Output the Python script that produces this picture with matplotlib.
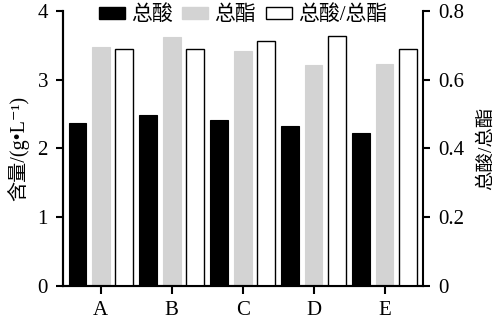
import matplotlib
matplotlib.use("Agg")
import matplotlib.pyplot as plt
import numpy as np
from matplotlib.patches import Patch

plt.rcParams['font.family'] = ['Liberation Serif', 'Noto Sans CJK SC', 'DejaVu Serif']

# 数据
samples = ['A', 'B', 'C', 'D', 'E']
total_acid = [2.37, 2.49, 2.42, 2.33, 2.22]       # 总酸 g/L
total_ester = [3.48, 3.62, 3.41, 3.21, 3.23]      # 总酯 g/L
acid_ester_ratio = [0.689, 0.689, 0.712, 0.728, 0.689]  # 总酸/总酯

x = np.arange(len(samples))
w = 0.25
off = 0.33

fig = plt.figure(figsize=(4.98, 3.21), dpi=100)
ax1 = fig.add_axes([0.127, 0.109, 0.722, 0.857])
ax2 = ax1.twinx()

ax1.bar(x - off, total_acid, w, color='black', edgecolor='black', linewidth=0.8)
ax1.bar(x, total_ester, w, color='#d3d3d3', edgecolor='#d3d3d3', linewidth=0.8)
ax2.bar(x + off, acid_ester_ratio, w, color='white', edgecolor='black', linewidth=1.0)

ax1.set_xlim(-0.53, 4.54)
ax1.set_ylim(0, 4)
ax2.set_ylim(0, 0.8)
ax1.set_yticks([0, 1, 2, 3, 4])
ax1.set_yticklabels(['0', '1', '2', '3', '4'])
ax2.set_yticks([0, 0.2, 0.4, 0.6, 0.8])
ax2.set_yticklabels(['0', '0.2', '0.4', '0.6', '0.8'])
ax1.set_xticks(x)
ax1.set_xticklabels(samples)

for ax in (ax1, ax2):
    ax.spines['top'].set_visible(False)
    for s in ('left', 'right', 'bottom'):
        ax.spines[s].set_linewidth(1.5)
    ax.tick_params(axis='y', direction='out', length=5, width=1.5, labelsize=15, pad=6)
ax1.tick_params(axis='x', direction='out', length=6, width=1.5, labelsize=15, pad=5)
ax1.spines['right'].set_visible(False)

ax1.set_ylabel('含量/(g•L⁻¹)', fontsize=14.5, labelpad=6)
ax2.set_ylabel('总酸/总酯', fontsize=14, labelpad=10, rotation=90)

handles = [
    Patch(facecolor='black', edgecolor='black'),
    Patch(facecolor='#d3d3d3', edgecolor='#d3d3d3'),
    Patch(facecolor='white', edgecolor='black', linewidth=1.0),
]
ax2.legend(handles, ['总酸', '总酯', '总酸/总酯'], loc='center', bbox_to_anchor=(0.5, 0.985),
           ncol=3, frameon=False, fontsize=15, handlelength=1.25, handleheight=0.5,
           handletextpad=0.3, columnspacing=0.45, borderaxespad=0)

fig.savefig('out.png', dpi=100)
